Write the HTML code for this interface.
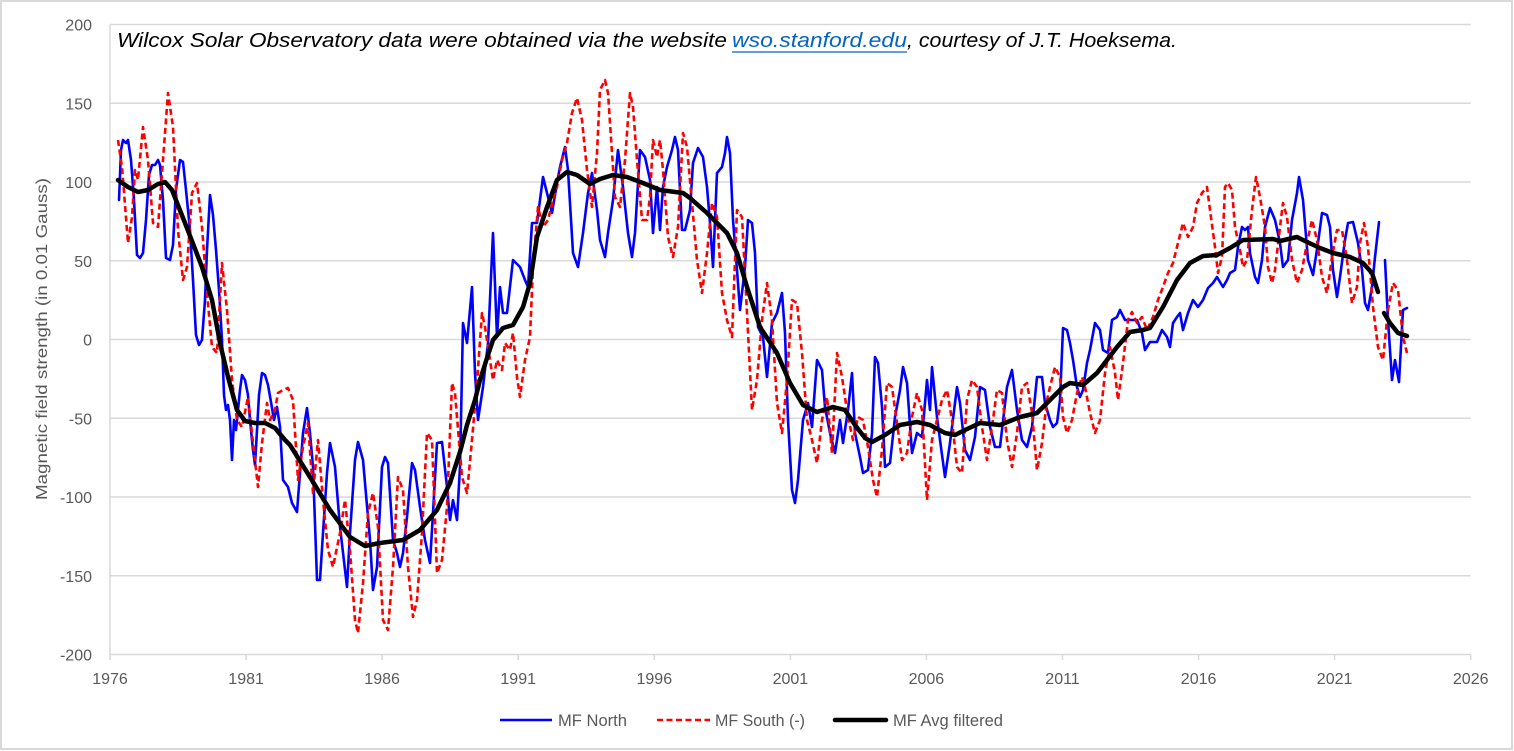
<!DOCTYPE html>
<html><head><meta charset="utf-8"><style>
html,body{margin:0;padding:0;background:#fff;}
svg{display:block;font-family:"Liberation Sans",Arial,sans-serif;}
</style></head><body>
<svg width="1514" height="751" viewBox="0 0 1514 751" xmlns="http://www.w3.org/2000/svg">
<rect x="1" y="1" width="1511" height="748" fill="#fff" stroke="#d9d9d9" stroke-width="2"/>
<g stroke="#d9d9d9" stroke-width="1.5">
<line x1="110" y1="24.5" x2="1470.7" y2="24.5"/>
<line x1="110" y1="103.25" x2="1470.7" y2="103.25"/>
<line x1="110" y1="182" x2="1470.7" y2="182"/>
<line x1="110" y1="260.75" x2="1470.7" y2="260.75"/>
<line x1="110" y1="339.5" x2="1470.7" y2="339.5"/>
<line x1="110" y1="418.25" x2="1470.7" y2="418.25"/>
<line x1="110" y1="497" x2="1470.7" y2="497"/>
<line x1="110" y1="575.75" x2="1470.7" y2="575.75"/>
<line x1="110" y1="654.5" x2="1470.7" y2="654.5"/>
<line x1="110" y1="24.5" x2="110" y2="660"/>
<line x1="246.1" y1="654.5" x2="246.1" y2="660"/>
<line x1="382.1" y1="654.5" x2="382.1" y2="660"/>
<line x1="518.2" y1="654.5" x2="518.2" y2="660"/>
<line x1="654.3" y1="654.5" x2="654.3" y2="660"/>
<line x1="790.4" y1="654.5" x2="790.4" y2="660"/>
<line x1="926.4" y1="654.5" x2="926.4" y2="660"/>
<line x1="1062.5" y1="654.5" x2="1062.5" y2="660"/>
<line x1="1198.6" y1="654.5" x2="1198.6" y2="660"/>
<line x1="1334.6" y1="654.5" x2="1334.6" y2="660"/>
<line x1="1470.7" y1="654.5" x2="1470.7" y2="660"/>
</g>
<g fill="#595959" font-size="16" text-anchor="end">
<text x="92" y="30.5">200</text>
<text x="92" y="109.25">150</text>
<text x="92" y="188">100</text>
<text x="92" y="266.75">50</text>
<text x="92" y="345.5">0</text>
<text x="92" y="424.25">-50</text>
<text x="92" y="503">-100</text>
<text x="92" y="581.75">-150</text>
<text x="92" y="660.5">-200</text>
</g>
<g fill="#595959" font-size="16" text-anchor="middle">
<text x="110" y="684">1976</text>
<text x="246.1" y="684">1981</text>
<text x="382.1" y="684">1986</text>
<text x="518.2" y="684">1991</text>
<text x="654.3" y="684">1996</text>
<text x="790.4" y="684">2001</text>
<text x="926.4" y="684">2006</text>
<text x="1062.5" y="684">2011</text>
<text x="1198.6" y="684">2016</text>
<text x="1334.6" y="684">2021</text>
<text x="1470.7" y="684">2026</text>
</g>
<text transform="translate(47,339) rotate(-90)" fill="#595959" font-size="16" text-anchor="middle" textLength="322" lengthAdjust="spacingAndGlyphs">Magnetic field strength (in 0.01 Gauss)</text>
<g font-size="20" font-style="italic">
<text x="117" y="47" fill="#000" textLength="610" lengthAdjust="spacingAndGlyphs">Wilcox Solar Observatory data were obtained via the website</text>
<text x="732" y="47" fill="#0563C1" textLength="175" lengthAdjust="spacingAndGlyphs">wso.stanford.edu</text>
<text x="907" y="47" fill="#000" textLength="270" lengthAdjust="spacingAndGlyphs">, courtesy of J.T. Hoeksema.</text>
</g>
<line x1="732" y1="52" x2="907" y2="52" stroke="#0563C1" stroke-width="1.2"/>

<g fill="none" stroke-linejoin="round" stroke-linecap="round">
<polyline stroke="#0000ff" stroke-width="2.6" points="119,200 121,150 123,140 126,143 128,140 131,160 134,200 137,255 140,258 143,253 146,220 149,175 152,165 155,165 158,160 160,165 163,200 166,258 170,260 173,245 176,190 180,160 183,162 186,190 190,230 193,280 196,335 199,345 202,340 205,300 207,250 210,195 213,215 216,250 219,290 222,340 224,395 226,410 228,405 230,420 232,460 234,420 236,430 238,410 240,390 242,375 245,380 248,395 250,420 253,450 255,465 257,430 259,395 262,373 265,375 268,385 271,402 274,420 277,407 280,427 283,480 288,487 292,503 297,512 300,473 303,433 307,408 310,433 313,467 317,580 320,580 323,533 327,473 330,443 335,467 340,527 347,587 350,533 355,460 358,442 363,460 370,540 373,590 377,567 382,467 385,457 388,463 393,540 397,553 400,567 403,553 407,517 412,463 415,470 420,507 425,540 430,563 433,513 437,443 442,442 447,487 450,520 453,500 457,520 460,467 463,323 467,343 472,287 475,373 478,420 483,387 488,343 493,233 497,337 500,287 503,313 507,313 513,260 520,267 525,280 528,287 532,223 537,223 543,177 547,193 552,213 557,183 560,167 565,147 568,170 573,253 578,267 583,233 588,193 592,173 597,210 600,240 605,257 608,233 613,200 618,150 623,187 628,233 632,257 635,233 640,150 645,157 650,180 653,233 657,187 660,230 663,187 667,167 672,150 675,137 678,150 682,230 685,230 690,210 693,163 698,148 703,157 707,187 710,223 713,267 717,173 722,167 725,153 727,137 730,153 733,220 737,270 740,310 745,267 748,220 752,223 755,253 758,327 763,337 767,377 772,323 777,313 782,293 785,333 788,420 792,490 795,503 798,480 803,420 808,403 812,427 817,360 822,370 825,407 830,433 835,453 840,420 843,443 848,410 852,373 855,433 860,457 863,473 868,470 872,433 875,357 878,363 882,407 885,467 890,463 895,417 900,390 903,367 907,383 912,453 917,433 922,437 927,380 930,410 932,367 937,417 940,440 945,477 950,443 957,387 960,403 965,450 970,460 975,437 980,387 985,390 990,427 995,447 1000,447 1007,387 1012,370 1017,410 1022,440 1027,447 1032,427 1037,377 1042,377 1045,403 1050,420 1053,427 1057,423 1060,400 1063,328 1067,330 1070,343 1073,360 1077,387 1080,397 1083,390 1087,363 1090,350 1095,323 1100,330 1103,350 1108,353 1112,320 1117,317 1120,310 1125,320 1130,320 1137,320 1142,333 1145,350 1150,342 1157,342 1162,330 1167,337 1170,347 1173,323 1177,317 1180,313 1183,330 1188,313 1193,300 1198,307 1203,300 1208,288 1213,283 1217,277 1220,282 1223,287 1227,280 1230,273 1235,270 1238,247 1242,227 1245,230 1248,227 1250,253 1255,277 1258,283 1262,260 1265,227 1270,208 1275,220 1280,243 1283,267 1288,260 1292,220 1297,193 1299,177 1303,200 1308,260 1313,275 1318,243 1322,213 1327,215 1330,227 1333,270 1337,297 1340,277 1345,240 1348,223 1353,222 1358,243 1362,270 1365,303 1368,310 1372,287 1375,257 1379,222"/>
<polyline stroke="#0000ff" stroke-width="2.6" points="1385,260 1388,320 1392,380 1395,360 1399,382 1403,310 1407,308"/>
<polyline stroke="#ff0000" stroke-width="2.6" stroke-dasharray="6 3.5" stroke-linecap="butt" points="118,140 122,167 128,243 132,217 135,170 138,180 143,127 148,160 153,223 158,227 163,160 168,93 173,127 178,230 183,280 187,267 192,193 197,183 202,227 207,293 212,347 217,353 222,263 227,310 232,380 237,420 242,427 248,397 253,443 258,487 262,443 267,403 270,420 275,410 278,393 283,390 288,388 293,400 298,480 303,447 308,423 313,493 318,440 323,500 328,550 333,567 340,533 345,500 350,550 355,620 358,633 363,583 368,513 373,493 378,527 383,620 388,630 393,567 398,477 403,490 408,567 413,617 417,600 422,533 427,433 432,440 437,573 442,560 447,507 452,383 455,393 462,477 467,493 472,440 477,383 482,313 485,327 490,360 493,380 497,360 502,370 505,343 510,350 513,333 517,377 520,397 525,360 530,337 533,267 538,207 543,227 548,220 553,200 557,187 562,160 567,143 572,113 577,98 582,120 587,170 592,207 597,153 600,90 605,80 608,93 612,153 615,197 620,207 625,160 630,93 633,107 637,160 642,220 647,220 650,197 653,140 657,157 660,140 663,170 668,237 673,257 678,227 683,133 687,147 692,203 697,260 702,293 707,253 712,203 717,217 722,293 727,320 732,337 737,210 742,217 747,313 752,410 757,380 762,320 767,283 772,320 777,403 782,433 787,380 792,300 797,303 802,353 807,420 812,440 817,463 822,420 827,397 832,453 837,353 842,377 848,417 853,440 858,417 863,420 868,447 873,480 877,497 882,450 887,383 892,387 897,423 902,460 907,453 912,417 917,393 922,410 927,500 932,440 937,420 942,400 947,390 952,420 957,467 962,473 967,400 972,380 977,387 982,427 987,460 992,427 997,390 1002,393 1007,440 1012,467 1017,433 1022,387 1027,383 1032,413 1037,470 1042,443 1047,400 1050,387 1055,367 1060,377 1063,417 1067,433 1072,420 1077,393 1082,377 1085,387 1090,413 1095,433 1100,420 1105,373 1110,347 1115,373 1118,400 1123,363 1128,320 1132,312 1137,323 1142,317 1147,330 1153,317 1158,300 1163,287 1168,273 1173,263 1178,243 1183,223 1188,237 1193,227 1197,203 1202,193 1207,187 1210,210 1215,247 1218,273 1222,257 1225,187 1228,183 1232,190 1235,227 1240,250 1243,267 1247,260 1252,210 1256,177 1260,197 1265,227 1268,267 1272,283 1275,270 1280,227 1283,203 1287,217 1292,260 1297,283 1302,270 1307,243 1312,220 1317,240 1322,277 1327,293 1332,257 1337,230 1342,230 1347,260 1352,303 1357,287 1360,243 1364,223 1368,247 1373,307 1378,347 1383,360 1388,310 1393,283 1398,290 1403,337 1407,353"/>
<polyline stroke="#000" stroke-width="4.5" points="118,180 128,187 138,192 148,190 158,184 165,182 172,190 185,223 202,267 212,300 220,343 228,377 237,410 245,421 255,423 265,423 275,428 285,440 290,445 310,477 330,510 350,537 365,546 380,543 403,540 420,530 437,510 450,483 460,452 467,425 475,400 480,380 487,358 493,340 503,328 513,325 523,307 530,283 537,237 547,207 557,180 567,172 577,175 590,184 600,179 613,175 627,177 643,183 660,190 683,193 690,198 707,213 727,233 737,253 747,287 760,327 777,353 790,383 803,405 817,412 833,407 845,410 855,425 865,438 872,442 885,435 900,425 917,422 930,425 945,433 955,435 965,430 980,423 1000,425 1020,417 1037,413 1050,400 1063,387 1070,383 1083,385 1097,373 1117,347 1130,332 1143,330 1150,328 1163,307 1177,280 1190,263 1203,256 1217,255 1230,248 1243,240 1273,239 1280,241 1297,237 1307,242 1320,248 1333,253 1350,257 1363,263 1372,273 1378,292"/>
<polyline stroke="#000" stroke-width="4.5" points="1384,313 1390,323 1398,333 1407,336"/>
</g>

<line x1="500" y1="720" x2="552" y2="720" stroke="#0000ff" stroke-width="2.6"/>
<line x1="657" y1="720" x2="710" y2="720" stroke="#ff0000" stroke-width="2.6" stroke-dasharray="6 3.5"/>
<line x1="835" y1="720" x2="886" y2="720" stroke="#000" stroke-width="4.5" stroke-linecap="round"/>
<g fill="#595959" font-size="17">
<text x="558" y="726" textLength="69" lengthAdjust="spacingAndGlyphs">MF North</text>
<text x="715" y="726" textLength="90" lengthAdjust="spacingAndGlyphs">MF South (-)</text>
<text x="893" y="726" textLength="110" lengthAdjust="spacingAndGlyphs">MF Avg filtered</text>
</g>
</svg>
</body></html>
